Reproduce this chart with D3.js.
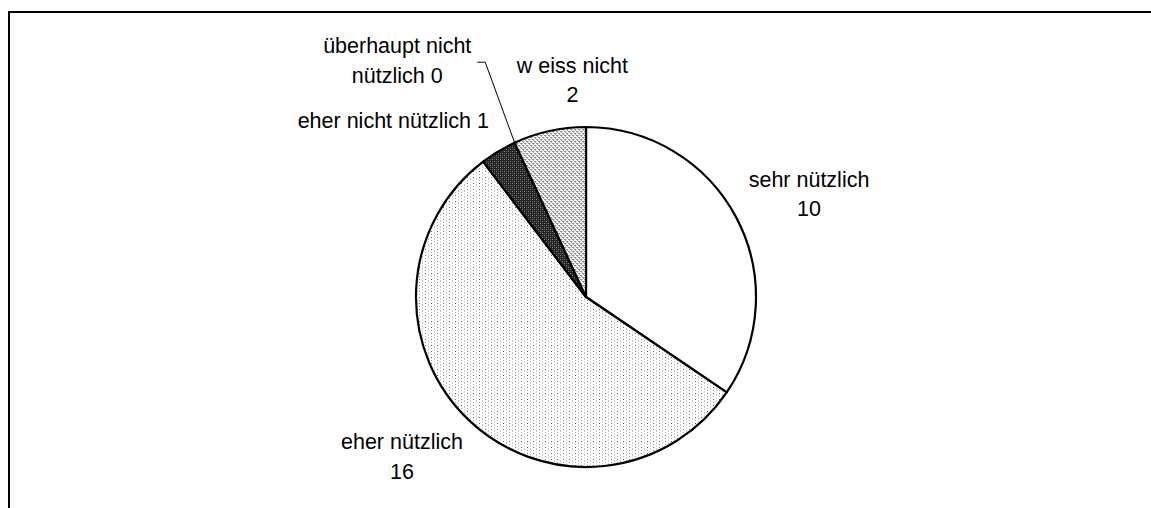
<!DOCTYPE html>
<html>
<head>
<meta charset="utf-8">
<script src="https://cdn.jsdelivr.net/npm/d3@7"></script>
<style>
  body { margin: 0; background: #fff; }
</style>
</head>
<body>
<div id="container"></div>
<script>
let w = 1151;
let h = 508;

// data
let categories = ["sehr nützlich", "eher nützlich", "eher nicht nützlich", "überhaupt nicht nützlich", "weiss nicht"];
let values = [10, 16, 1, 0, 2];
// label lines as drawn in the chart
let labelLines = [
  ["sehr nützlich", "10"],
  ["eher nützlich", "16"],
  ["eher nicht nützlich 1"],
  ["überhaupt nicht", "nützlich 0"],
  ["w eiss nicht", "2"]
];

let cx = 586, cy = 297, r = 170;

let viz = d3.select("#container")
  .append("svg")
    .attr("width", w)
    .attr("height", h)
    .style("background-color", "#fff");

// patterns, like the old excel fills
let defs = viz.append("defs");

let dots = defs.append("pattern").attr("id", "dots")
  .attr("patternUnits", "userSpaceOnUse").attr("width", 6).attr("height", 6);
dots.append("rect").attr("width", 6).attr("height", 6).attr("fill", "#fff");
dots.append("rect").attr("x", 1).attr("y", 0).attr("width", 1).attr("height", 1).attr("fill", "#666");
dots.append("rect").attr("x", 1).attr("y", 3).attr("width", 1).attr("height", 1).attr("fill", "#aaa");
dots.append("rect").attr("x", 4).attr("y", 1.5).attr("width", 1).attr("height", 1).attr("fill", "#888");
dots.append("rect").attr("x", 4).attr("y", 4.5).attr("width", 1).attr("height", 1).attr("fill", "#bbb");

let darkHatch = defs.append("pattern").attr("id", "darkHatch")
  .attr("patternUnits", "userSpaceOnUse").attr("width", 4).attr("height", 4);
darkHatch.append("rect").attr("width", 4).attr("height", 4).attr("fill", "#222");
darkHatch.append("rect").attr("x", 0).attr("y", 0).attr("width", 1).attr("height", 1).attr("fill", "#8a8a8a");
darkHatch.append("rect").attr("x", 2).attr("y", 2).attr("width", 1).attr("height", 1).attr("fill", "#8a8a8a");
darkHatch.append("rect").attr("x", 2).attr("y", 0).attr("width", 1).attr("height", 1).attr("fill", "#555");
darkHatch.append("rect").attr("x", 0).attr("y", 2).attr("width", 1).attr("height", 1).attr("fill", "#555");

let lightHatch = defs.append("pattern").attr("id", "lightHatch")
  .attr("patternUnits", "userSpaceOnUse").attr("width", 4).attr("height", 4);
lightHatch.append("rect").attr("width", 4).attr("height", 4).attr("fill", "#fff");
lightHatch.append("rect").attr("x", 0).attr("y", 0).attr("width", 2).attr("height", 1).attr("fill", "#888");
lightHatch.append("rect").attr("x", 2).attr("y", 2).attr("width", 2).attr("height", 1).attr("fill", "#888");
lightHatch.append("rect").attr("x", 1).attr("y", 1).attr("width", 1).attr("height", 1).attr("fill", "#aaa");
lightHatch.append("rect").attr("x", 3).attr("y", 3).attr("width", 1).attr("height", 1).attr("fill", "#aaa");
lightHatch.append("rect").attr("x", 0).attr("y", 2).attr("width", 1).attr("height", 1).attr("fill", "#ccc");
lightHatch.append("rect").attr("x", 2).attr("y", 0).attr("width", 1).attr("height", 1).attr("fill", "#ccc");

let fills = ["#fff", "url(#dots)", "url(#darkHatch)", "#fff", "url(#lightHatch)"];

// chart area border (runs off the page right and bottom)
viz.append("rect")
  .attr("x", 9).attr("y", 12)
  .attr("width", 1200).attr("height", 560)
  .attr("fill", "none")
  .attr("stroke", "#000")
  .attr("stroke-width", 2);

let pie = d3.pie().sort(null).value(d => d);
let arcs = pie(values);
let arc = d3.arc().innerRadius(0).outerRadius(r);
let labelArc = d3.arc().innerRadius(240).outerRadius(240);

let g = viz.append("g").attr("transform", "translate(" + cx + "," + cy + ")");

g.selectAll("path.slice")
  .data(arcs)
  .enter()
  .append("path")
    .attr("class", "slice")
    .attr("d", arc)
    .attr("fill", (d, i) => fills[i])
    .attr("stroke", "#000")
    .attr("stroke-width", 2.2)
    .attr("stroke-linejoin", "round");

// excel moved labels a bit, nudges relative to the label arc point
let nudge = [[11, 2], [-19, -22], [-69, 37], [-88, -26], [38, 10]];
let lineH = 29.5;

arcs.forEach(function(d, i){
  let p = labelArc.centroid(d);
  let x = p[0] + nudge[i][0];
  let y = p[1] + nudge[i][1];
  let t = g.append("text")
    .attr("x", x)
    .attr("y", y)
    .attr("text-anchor", "middle")
    .attr("style", "font-size:21.5px; font-family: 'Liberation Sans', Arial, sans-serif;")
    .attr("fill", "#000");
  labelLines[i].forEach(function(line, j){
    t.append("tspan")
      .attr("x", x)
      .attr("y", y + j * lineH)
      .text(line);
  });

  // leader line for the zero slice
  if (values[i] == 0) {
    let edge = d3.arc().innerRadius(r).outerRadius(r).centroid(d);
    let elbowX = x + 88;
    let elbowY = y + 9;
    g.append("polyline")
      .attr("points", [[edge[0], edge[1]], [elbowX, elbowY], [elbowX - 8, elbowY]].map(q => q.join(",")).join(" "))
      .attr("fill", "none")
      .attr("stroke", "#000")
      .attr("stroke-width", 1);
  }
});
</script>
</body>
</html>
